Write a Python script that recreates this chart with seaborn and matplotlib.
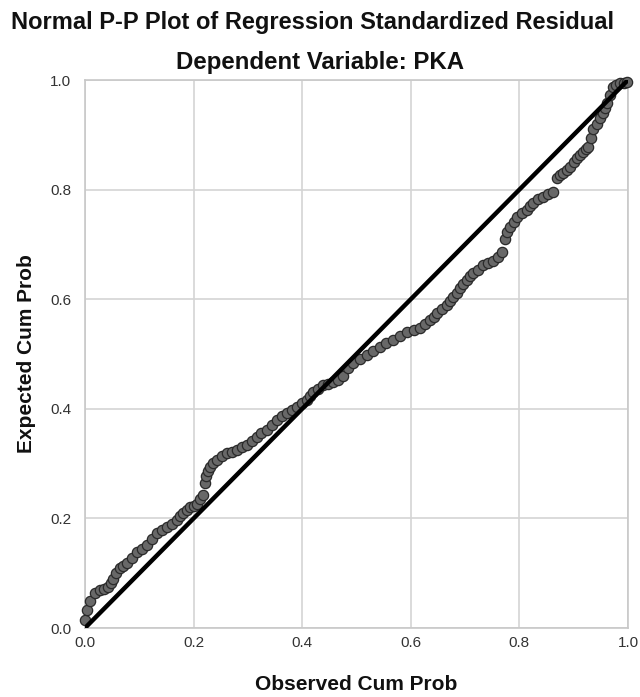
import matplotlib
matplotlib.use("Agg")
import matplotlib.pyplot as plt
import seaborn as sns
import pandas as pd

observed = [0.000, 0.004, 0.009, 0.018, 0.028, 0.035, 0.042, 0.047, 0.052, 0.058,
            0.064, 0.070, 0.077, 0.086, 0.095, 0.105, 0.114, 0.123, 0.133, 0.142,
            0.151, 0.160, 0.169, 0.175, 0.181, 0.187, 0.193, 0.200, 0.206, 0.212,
            0.217, 0.221, 0.223, 0.226, 0.230, 0.236, 0.243, 0.252, 0.261, 0.270,
            0.280, 0.289, 0.298, 0.307, 0.316, 0.325, 0.335, 0.344, 0.353, 0.362,
            0.372, 0.381, 0.390, 0.399, 0.409, 0.415, 0.420, 0.429, 0.438, 0.447,
            0.457, 0.466, 0.475, 0.485, 0.494, 0.506, 0.519, 0.531, 0.543, 0.555,
            0.567, 0.580, 0.593, 0.605, 0.617, 0.626, 0.635, 0.642, 0.648, 0.657,
            0.667, 0.673, 0.678, 0.685, 0.691, 0.697, 0.703, 0.709, 0.715, 0.724,
            0.733, 0.742, 0.751, 0.760, 0.768, 0.773, 0.778, 0.783, 0.790, 0.796,
            0.805, 0.814, 0.820, 0.825, 0.834, 0.843, 0.852, 0.862, 0.869, 0.875,
            0.880, 0.887, 0.893, 0.900, 0.906, 0.912, 0.917, 0.922, 0.926, 0.932,
            0.936, 0.943, 0.948, 0.954, 0.958, 0.961, 0.967, 0.972, 0.978, 0.985,
            0.992, 0.998]
expected = [0.015, 0.033, 0.050, 0.064, 0.069, 0.072, 0.075, 0.082, 0.090, 0.100,
            0.110, 0.114, 0.118, 0.128, 0.139, 0.145, 0.151, 0.162, 0.173, 0.179,
            0.184, 0.190, 0.197, 0.204, 0.210, 0.215, 0.220, 0.223, 0.227, 0.235,
            0.243, 0.265, 0.278, 0.287, 0.294, 0.301, 0.307, 0.313, 0.319, 0.322,
            0.325, 0.330, 0.334, 0.341, 0.349, 0.355, 0.361, 0.370, 0.380, 0.386,
            0.392, 0.398, 0.403, 0.410, 0.416, 0.424, 0.431, 0.437, 0.443, 0.446,
            0.449, 0.453, 0.460, 0.474, 0.483, 0.490, 0.498, 0.505, 0.513, 0.520,
            0.526, 0.533, 0.540, 0.544, 0.547, 0.554, 0.562, 0.568, 0.575, 0.582,
            0.589, 0.597, 0.604, 0.612, 0.620, 0.628, 0.635, 0.642, 0.648, 0.654,
            0.662, 0.666, 0.670, 0.677, 0.687, 0.710, 0.722, 0.732, 0.741, 0.750,
            0.757, 0.763, 0.770, 0.776, 0.782, 0.787, 0.792, 0.796, 0.821, 0.826,
            0.830, 0.836, 0.841, 0.850, 0.858, 0.864, 0.869, 0.874, 0.878, 0.895,
            0.910, 0.920, 0.930, 0.940, 0.949, 0.958, 0.973, 0.987, 0.991, 0.994,
            0.995, 0.996]

ref_line = [0.0, 1.0]
ticks = [0.0, 0.2, 0.4, 0.6, 0.8, 1.0]
tick_labels = ["0.0", "0.2", "0.4", "0.6", "0.8", "1.0"]

title = "Normal P-P Plot of Regression Standardized Residual"
subtitle = "Dependent Variable: PKA"
xlabel = "Observed Cum Prob"
ylabel = "Expected Cum Prob"

sns.set_style("white")
plt.rcParams["font.family"] = ["Liberation Sans", "DejaVu Sans"]

df = pd.DataFrame({"obs": observed, "exp": expected})
ref = pd.DataFrame({"x": ref_line, "y": ref_line})

fig = plt.figure(figsize=(6.4, 6.97), dpi=100)
ax = fig.add_axes([85 / 640, 1 - 628 / 697, 543 / 640, 548 / 697])

sns.scatterplot(data=df, x="obs", y="exp", ax=ax, s=55, color="#686868",
                edgecolor="#2a2a2a", linewidth=0.9, zorder=3, clip_on=False)
sns.lineplot(data=ref, x="x", y="y", ax=ax, color="black", linewidth=3.2,
             zorder=4, solid_capstyle="butt")

ax.set_xlim(0, 1)
ax.set_ylim(0, 1)
ax.set_xticks(ticks)
ax.set_yticks(ticks)
ax.set_xticklabels(tick_labels)
ax.set_yticklabels(tick_labels)
ax.tick_params(axis="x", length=0, labelsize=11, colors="#333333", pad=6)
ax.tick_params(axis="y", length=0, labelsize=11, colors="#333333", pad=10)
ax.grid(True, color="#d4d4d4", linewidth=1.2)
ax.set_axisbelow(True)
for sp in ax.spines.values():
    sp.set_color("#c8c8c8")
    sp.set_linewidth(1.2)

ax.set_xlabel(xlabel, fontsize=15, fontweight="bold", labelpad=18, color="#111111")
ax.set_ylabel(ylabel, fontsize=15, fontweight="bold", labelpad=10, color="#111111")

fig.text(0.488, 1 - 22 / 697, title, ha="center", va="center", fontsize=17,
         fontweight="bold", color="#111111")
fig.text(0.5, 1 - 62 / 697, subtitle, ha="center", va="center", fontsize=17.3,
         fontweight="bold", color="#111111")

fig.savefig("out.png", dpi=100)
